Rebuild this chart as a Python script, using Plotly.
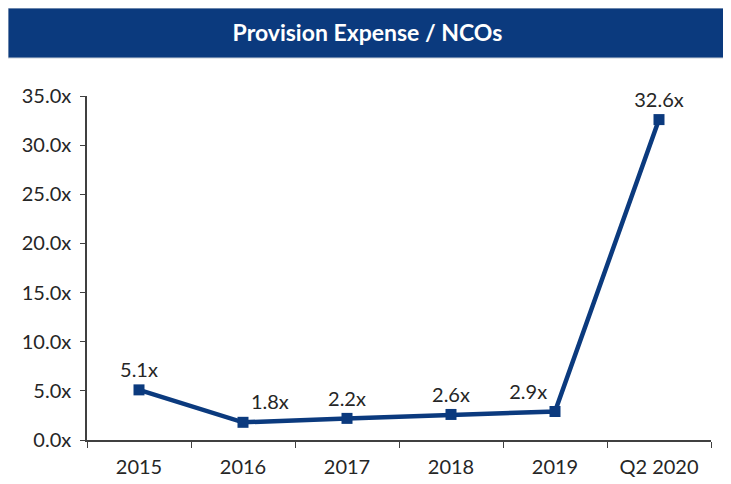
import plotly.graph_objects as go

NAVY = "#0b3a7e"
TEXT = "#262626"

years = ["2015", "2016", "2017", "2018", "2019", "Q2 2020"]
ratio = [5.1, 1.8, 2.2, 2.6, 2.9, 32.6]
labels = ["5.1x", "1.8x", "2.2x", "2.6x", "2.9x", "32.6x"]
label_pos = ["top center", "top right", "top center", "top center", "top left", "top center"]

y_ticks = [0, 5, 10, 15, 20, 25, 30, 35]
y_tick_text = ["0.0x", "5.0x", "10.0x", "15.0x", "20.0x", "25.0x", "30.0x", "35.0x"]

fig = go.Figure()
fig.add_trace(go.Scatter(
    x=years, y=ratio, mode="lines+markers+text",
    line=dict(color=NAVY, width=4.5),
    marker=dict(symbol="square", size=11, color=NAVY),
    text=labels, textposition=label_pos,
    textfont=dict(size=20, color=TEXT, family="Lato, sans-serif"),
    cliponaxis=False, showlegend=False,
))

# title banner (page body adds an 8px offset)
fig.add_shape(type="rect", xref="paper", yref="paper",
              x0=-79 / 624, x1=1 + 17 / 624, y0=1 + 38 / 344, y1=1 + 88 / 344,
              fillcolor=NAVY, line=dict(color="#c9cfd8", width=1), layer="below")

fig.update_layout(
    width=731, height=484,
    paper_bgcolor="white", plot_bgcolor="white",
    margin=dict(l=79, r=28, t=88, b=52),
    title=dict(text="<b>Provision Expense / NCOs</b>", x=(359 + 0.5) / 731, xref="container",
               xanchor="center", y=1 - 25 / 484, yanchor="middle",
               font=dict(size=23, color="white", family="Lato, sans-serif")),
    font=dict(family="Lato, sans-serif", size=20, color=TEXT),
    xaxis=dict(range=[-0.5, len(years) - 0.5], showgrid=False, showline=True,
               linecolor="#404040", linewidth=1.5,
               ticks="outside", tickson="boundaries", ticklen=6, tickcolor="#404040",
               ticklabelstandoff=8,
               tickfont=dict(size=20, color=TEXT), zeroline=False),
    yaxis=dict(range=[0, 35], showgrid=False, showline=True, linecolor="#404040", linewidth=1.5,
               ticks="outside", ticklen=5, tickcolor="#404040", ticklabelstandoff=5,
               tickvals=y_ticks, ticktext=y_tick_text,
               tickfont=dict(size=20, color=TEXT), zeroline=False),
)

fig.write_html("out.html")
